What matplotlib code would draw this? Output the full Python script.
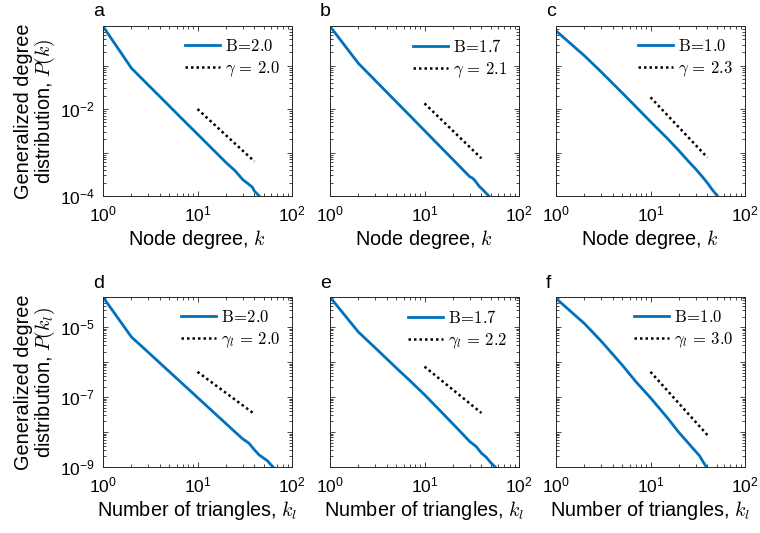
import matplotlib
matplotlib.use('Agg')
import matplotlib.pyplot as plt
import numpy as np
from matplotlib.ticker import LogLocator, FuncFormatter, NullFormatter

plt.rcParams['font.family'] = 'Liberation Sans'
plt.rcParams['mathtext.fontset'] = 'cm'

blue = '#0072BD'

# generalized degree distributions P(k), top row
k_a = [1, 2, 3, 5, 7, 10, 15, 20, 25, 30, 35, 38, 40, 45]
P_a = [0.80, 0.087, 0.036, 0.0119, 0.0057, 0.00265, 0.0011, 5.9e-4,
       3.8e-4, 2.4e-4, 1.85e-4, 1.6e-4, 1.3e-4, 1.0e-4]
k_b = [1, 2, 3, 5, 7, 10, 15, 20, 25, 30, 32, 34, 38, 42, 45, 48]
P_b = [0.80, 0.112, 0.0458, 0.0148, 0.00705, 0.0032, 0.0013, 6.9e-4,
       4.2e-4, 2.8e-4, 2.6e-4, 2.3e-4, 1.66e-4, 1.35e-4, 1.15e-4, 1.0e-4]
k_c = [1, 2, 3, 5, 7, 10, 15, 20, 25, 30, 35, 40, 45, 51]
P_c = [0.63, 0.168, 0.0718, 0.0237, 0.0113, 0.00513, 0.00213, 0.0011,
       6.4e-4, 4.2e-4, 2.85e-4, 2.0e-4, 1.4e-4, 1.0e-4]

# distributions over number of triangles P(k_l), bottom row
k_d = [1, 2, 3, 5, 7, 10, 15, 20, 25, 30, 35, 40, 45, 50, 55, 60, 63]
P_d = [7.2e-5, 5.2e-6, 1.92e-6, 5.4e-7, 2.35e-7, 9.7e-8, 3.55e-8, 1.74e-8,
       1.0e-8, 6.4e-9, 4.8e-9, 3.1e-9, 2.2e-9, 1.8e-9, 1.5e-9, 1.15e-9, 1.0e-9]
k_e = [1, 2, 3, 5, 7, 10, 15, 20, 25, 30, 35, 40, 45, 50, 56]
P_e = [7.2e-5, 7.2e-6, 2.57e-6, 6.9e-7, 2.95e-7, 1.17e-7, 3.8e-8, 1.7e-8,
       9.1e-9, 5.4e-9, 3.9e-9, 2.5e-9, 1.9e-9, 1.35e-9, 1.0e-9]
k_f = [1, 2, 3, 5, 7, 10, 15, 20, 25, 30, 33, 35, 39]
P_f = [6.6e-5, 1.26e-5, 4.0e-6, 8.3e-7, 2.75e-7, 9.5e-8, 2.6e-8, 9.7e-9,
       4.9e-9, 2.8e-9, 2.1e-9, 1.6e-9, 1.0e-9]

B_vals = ['2.0', '1.7', '1.0', '2.0', '1.7', '1.0']
gammas = [2.0, 2.1, 2.3, 2.0, 2.2, 3.0]
guide_at10 = [1e-2, 10**-1.87, 10**-1.73, 10**-6.28, 10**-6.13, 10**-6.28]
guide_k = np.array([10, 40])
letters = ['a', 'b', 'c', 'd', 'e', 'f']

curves = [(k_a, P_a), (k_b, P_b), (k_c, P_c), (k_d, P_d), (k_e, P_e), (k_f, P_f)]

W, H = 760, 533
fig = plt.figure(figsize=(W / 100, H / 100), dpi=100)

lefts = [103, 330, 556]
tops = [26, 297]
aw, ah = 189, 170

for i in range(6):
    row, col = divmod(i, 3)
    x0 = lefts[col]
    y0 = tops[row]
    ax = fig.add_axes([x0 / W, 1 - (y0 + ah) / H, aw / W, ah / H])
    k, P = curves[i]
    ax.loglog(k, P, color=blue, lw=2.0,
              label=r'$\mathrm{B}\!=\!%s$' % B_vals[i])
    g = gammas[i]
    gp = guide_at10[i] * (guide_k / 10.0) ** (-g)
    if row == 0:
        glab = r'$\gamma\,=\,%.1f$' % g
    else:
        glab = r'$\gamma_l\,=\,%.1f$' % g
    ax.loglog(guide_k, gp, color='black', lw=1.8, linestyle=(0, (1, 1.2)), label=glab)

    ax.set_xlim(1, 100)
    if row == 0:
        ax.set_ylim(1e-4, 10 ** -0.09)
        shown = {-2, -4}
    else:
        ax.set_ylim(1e-9, 10 ** -4.14)
        shown = {-5, -7, -9}

    ax.xaxis.set_major_locator(LogLocator(base=10, numticks=10))
    ax.xaxis.set_minor_locator(LogLocator(base=10, subs=range(2, 10), numticks=20))
    ax.yaxis.set_major_locator(LogLocator(base=10, numticks=20))
    ax.yaxis.set_minor_locator(LogLocator(base=10, subs=range(2, 10), numticks=20))
    ax.xaxis.set_minor_formatter(NullFormatter())
    ax.yaxis.set_minor_formatter(NullFormatter())
    ax.xaxis.set_major_formatter(FuncFormatter(
        lambda v, p: r'$\mathdefault{10^{%d}}$' % round(np.log10(v))))
    if col == 0:
        ax.yaxis.set_major_formatter(FuncFormatter(
            lambda v, p, s=shown: (r'$\mathdefault{10^{%d}}$' % round(np.log10(v)))
            if round(np.log10(v)) in s else ''))
    else:
        ax.yaxis.set_major_formatter(NullFormatter())

    ax.tick_params(which='both', direction='in', top=True, right=True,
                   colors='#262626', labelcolor='black', width=0.6)
    ax.tick_params(which='major', length=3.5, labelsize=12.5, pad=6)
    ax.tick_params(which='minor', length=2)
    for sp in ax.spines.values():
        sp.set_linewidth(0.7)
        sp.set_color('#262626')

    if row == 0:
        ax.set_xlabel('Node degree, $k$', fontsize=14.3, labelpad=3)
    else:
        ax.set_xlabel('Number of triangles, $k_l$', fontsize=14.3, labelpad=3)
    if col == 0:
        ylab = 'Generalized degree\ndistribution, $P(k)$' if row == 0 else \
            'Generalized degree\ndistribution, $P(k_l)$'
        ax.set_ylabel(ylab, fontsize=14.3, labelpad=2, linespacing=1.0)

    ax.legend(loc='upper right', frameon=False, fontsize=12, handlelength=2.1,
              handletextpad=0.3, labelspacing=0.35, borderaxespad=0.3,
              borderpad=0.4)

    fig.text((x0 - 10) / W, 1 - (y0 - 14) / H, letters[i], fontsize=14,
             ha='left', va='center')

fig.savefig('out.png', dpi=100)
